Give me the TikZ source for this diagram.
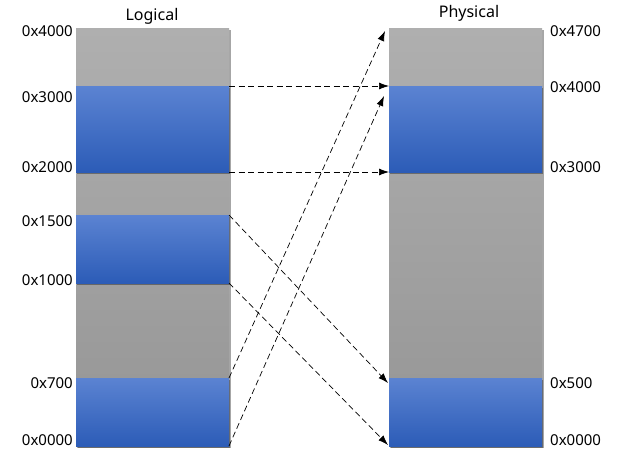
\documentclass[tikz,border=0pt]{standalone}
\usepackage{fontspec}
\setmainfont{Noto Sans}
\usetikzlibrary{arrows.meta,calc,shadows}
\definecolor{grayTop}{HTML}{AFAFAF}
\definecolor{grayBot}{HTML}{959595}
\definecolor{blueTop}{HTML}{5B83D2}
\definecolor{blueBot}{HTML}{2C5CB7}
\begin{document}
\begin{tikzpicture}[x=1pt,y=-1pt,
  col/.style={rectangle, inner sep=0pt, outer sep=0pt, minimum width=153pt,
    anchor=north west, top color=grayTop, bottom color=grayBot, draw=none,
    drop shadow={shadow xshift=1.5pt, shadow yshift=-1.5pt, opacity=0.35, fill=black}},
  blk/.style={rectangle, inner sep=0pt, outer sep=0pt, minimum width=153pt,
    anchor=north west, top color=blueTop, bottom color=blueBot, draw=none,
    drop shadow={shadow xshift=1pt, shadow yshift=-1.5pt, opacity=0.35, fill=black}},
  lbl/.style={font=\fontsize{15}{17}\selectfont, inner sep=0pt},
  ttl/.style={font=\fontsize{16}{18}\selectfont, inner sep=0pt, anchor=base},
  map/.style={dash pattern=on 6pt off 3.5pt, line width=0.7pt,
    -{Latex[length=10pt,width=7pt]}}]
\useasboundingbox (0,0) rectangle (617,461);
% columns
\node[col, minimum height=418pt] (LC) at (76,28) {};
\node[col, minimum height=418pt] (PC) at (389,28) {};
% logical blocks
\node[blk, minimum height=86pt] (LA) at (76,86) {};
\node[blk, minimum height=68pt] (LB) at (76,215) {};
\node[blk, minimum height=68pt] (LD) at (76,378) {};
% physical blocks
\node[blk, minimum height=86pt] (PA) at (389,86) {};
\node[blk, minimum height=68pt] (PD) at (389,378) {};
% titles
\node[ttl] (tl) at (152,20) {Logical};
\node[ttl] (tp) at (469,17) {Physical};
% left labels
\node[lbl, anchor=base east] (l4000) at (73,36) {0x4000};
\node[lbl, anchor=base east] (l3000) at (73,102) {0x3000};
\node[lbl, anchor=base east] (l2000) at (73,172) {0x2000};
\node[lbl, anchor=base east] (l1500) at (73,226) {0x1500};
\node[lbl, anchor=base east] (l1000) at (73,285) {0x1000};
\node[lbl, anchor=base east] (l700) at (73,388) {0x700};
\node[lbl, anchor=base east] (l0000) at (73,445) {0x0000};
% right labels
\node[lbl, anchor=base west] (r4700) at (550,36) {0x4700};
\node[lbl, anchor=base west] (r4000) at (550,92) {0x4000};
\node[lbl, anchor=base west] (r3000) at (550,172) {0x3000};
\node[lbl, anchor=base west] (r500) at (550,388) {0x500};
\node[lbl, anchor=base west] (r0000) at (550,445) {0x0000};
% arrow targets
\coordinate (t1) at ($(PC.north west)+(-4,3)$);
\coordinate (t2) at ($(PA.north west)+(-5,10)$);
\coordinate (t3) at ($(PD.north west)+(-1,5)$);
\coordinate (t4) at ($(PD.south west)+(-1,-1)$);
% mappings
\draw[map] (LA.north east) -- (PA.north west);
\draw[map] (LA.south east) -- (PA.south west);
\draw[map] (LB.north east) -- (t3);
\draw[map] (LB.south east) -- (t4);
\draw[map] (LD.north east) -- (t1);
\draw[map] (LD.south east) -- (t2);
\end{tikzpicture}
\end{document}
